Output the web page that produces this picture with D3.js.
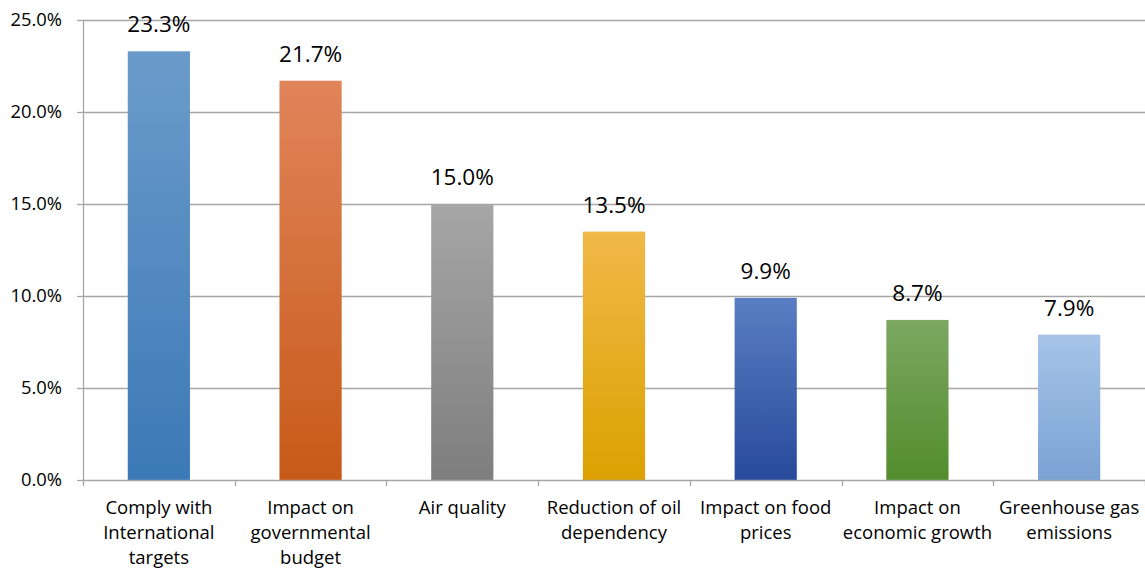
<!DOCTYPE html>
<html>
<head>
<meta charset="utf-8">
<script src="https://cdn.jsdelivr.net/npm/d3@7"></script>
<style>
    body { margin: 0; background: #fff; }
    svg text { font-family: "Open Sans", sans-serif; fill: #000; }
</style>
</head>
<body>
<div id="chart"></div>
<script>
const categories = [
    ['Comply with', 'International', 'targets'],
    ['Impact on', 'governmental', 'budget'],
    ['Air quality'],
    ['Reduction of oil', 'dependency'],
    ['Impact on food', 'prices'],
    ['Impact on', 'economic growth'],
    ['Greenhouse gas', 'emissions']
];
const values = [23.3, 21.7, 15.0, 13.5, 9.9, 8.7, 7.9];
const yTicks = [0, 5, 10, 15, 20, 25];
const barColors = [
    ['#6b9bcb', '#3b79b6'],
    ['#e1845a', '#c75a18'],
    ['#a6a6a6', '#7e7e7e'],
    ['#f0b948', '#dca100'],
    ['#5a7ec3', '#284a9b'],
    ['#7ca862', '#528c2c'],
    ['#a6c4e8', '#7aa2d3']
];

const W = 1145, H = 571;
const margin = { top: 20, right: 0, bottom: 91, left: 83 };
const innerW = W - margin.left - margin.right;
const innerH = H - margin.top - margin.bottom;

const svg = d3.select('#chart').append('svg')
    .attr('width', W)
    .attr('height', H);

const defs = svg.append('defs');
barColors.forEach((c, i) => {
    const grad = defs.append('linearGradient')
        .attr('id', 'grad' + i)
        .attr('x1', 0).attr('y1', 0).attr('x2', 0).attr('y2', 1);
    grad.append('stop').attr('offset', '0%').attr('stop-color', c[0]);
    grad.append('stop').attr('offset', '100%').attr('stop-color', c[1]);
});

const g = svg.append('g')
    .attr('transform', `translate(${margin.left},${margin.top})`);

const x = d3.scaleBand()
    .domain(d3.range(values.length))
    .range([0, innerW])
    .paddingInner(0.59)
    .paddingOuter(0.295);

const y = d3.scaleLinear()
    .domain([0, 25])
    .range([innerH, 0]);

// gridlines
g.selectAll('.grid')
    .data(yTicks.filter(t => t > 0))
    .enter()
    .append('line')
    .attr('class', 'grid')
    .attr('x1', 0)
    .attr('x2', innerW)
    .attr('y1', d => Math.round(y(d)) + 0.5)
    .attr('y2', d => Math.round(y(d)) + 0.5)
    .attr('stroke', '#a6a6a6')
    .attr('stroke-width', 1.3);

// bars
g.selectAll('.bar')
    .data(values)
    .enter()
    .append('rect')
    .attr('class', 'bar')
    .attr('x', (d, i) => x(i))
    .attr('y', d => y(d))
    .attr('width', x.bandwidth())
    .attr('height', d => innerH - y(d))
    .attr('fill', (d, i) => `url(#grad${i})`);

// value labels
g.selectAll('.value-label')
    .data(values)
    .enter()
    .append('text')
    .attr('class', 'value-label')
    .attr('x', (d, i) => x(i) + x.bandwidth() / 2)
    .attr('y', d => y(d) - 19)
    .attr('text-anchor', 'middle')
    .attr('font-size', '22.5px')
    .text(d => d.toFixed(1) + '%');

// y axis
const yAxis = g.append('g')
    .call(d3.axisLeft(y).tickValues(yTicks).tickSize(6).tickFormat(d => d.toFixed(1) + '%'));
yAxis.attr('font-family', null);
yAxis.select('.domain').attr('stroke', '#a6a6a6').attr('stroke-width', 1.3).attr('d', `M0.5,0V${innerH}`);
yAxis.selectAll('.tick line').attr('stroke', '#a6a6a6').attr('stroke-width', 1.3);
yAxis.selectAll('.tick text')
    .attr('x', -21)
    .attr('font-size', '18.4px');

// x axis
const xAxisG = g.append('g')
    .attr('transform', `translate(0,${innerH})`);
xAxisG.append('line')
    .attr('x1', 0).attr('x2', innerW)
    .attr('y1', 0.5).attr('y2', 0.5)
    .attr('stroke', '#a6a6a6')
    .attr('stroke-width', 1.3);
const step = x.step();
xAxisG.selectAll('.xtick')
    .data(d3.range(values.length + 1))
    .enter()
    .append('line')
    .attr('class', 'xtick')
    .attr('x1', i => Math.round(x(0) - x.paddingOuter() * step + i * step) + 0.5)
    .attr('x2', i => Math.round(x(0) - x.paddingOuter() * step + i * step) + 0.5)
    .attr('y1', 0)
    .attr('y2', 6)
    .attr('stroke', '#a6a6a6')
    .attr('stroke-width', 1.3);

const catLabels = xAxisG.selectAll('.cat-label')
    .data(categories)
    .enter()
    .append('text')
    .attr('class', 'cat-label')
    .attr('text-anchor', 'middle')
    .attr('font-size', '18.5px')
    .attr('transform', (d, i) => `translate(${x(i) + x.bandwidth() / 2},0)`);

catLabels.selectAll('tspan')
    .data(d => d)
    .enter()
    .append('tspan')
    .attr('x', 0)
    .attr('y', (d, i) => 34 + i * 25)
    .text(d => d);
</script>
</body>
</html>
